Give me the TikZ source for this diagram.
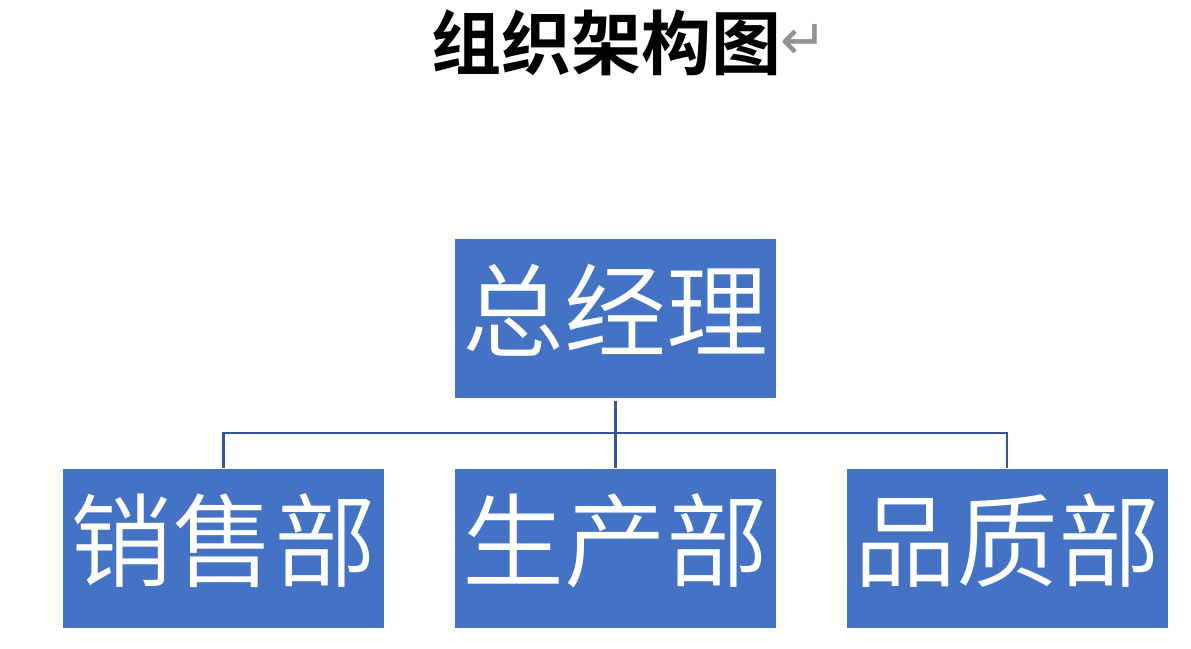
\documentclass[tikz,border=0pt]{standalone}
\usepackage{fontspec}
\newfontfamily\cjk{Noto Sans CJK SC DemiLight}
\newfontfamily\cjkbold{Noto Sans CJK SC Bold}
\newfontfamily\dejavu{DejaVu Sans}
\definecolor{boxblue}{RGB}{68,114,196}
\definecolor{lineblue}{RGB}{52,85,150}
\begin{document}
\begin{tikzpicture}[x=1pt,y=-1pt,
  orgbox/.style={fill=boxblue, draw=none, minimum width=321pt, minimum height=159pt, inner sep=0pt},
  boxtext/.style={text=white, font=\cjk\fontsize{102}{110}\selectfont, anchor=base, inner sep=0pt},
  conn/.style={draw=lineblue, line width=2.8pt}]
\useasboundingbox (0,0) rectangle (1191,648);
\node[anchor=base, inner sep=0pt, font=\cjkbold\fontsize{70}{76}\selectfont] (title) at (606,69) {组织架构图};
\node[anchor=west, inner sep=0pt, text=gray!85, font=\dejavu\fontsize{56}{60}\selectfont] (ret) at (780,42) {↵};
\node[orgbox] (gm) at (615.5,318.5) {};
\node[orgbox] (sales) at (223.5,548) {};
\node[orgbox] (prod) at (615.5,548) {};
\node[orgbox] (qa) at (1007,548) {};
\node[boxtext] (gmt) at (615.5,349) {总经理};
\node[boxtext] (salest) at (223.5,579) {销售部};
\node[boxtext] (prodt) at (615.5,579) {生产部};
\node[boxtext] (qat) at (1007,579) {品质部};
\coordinate (hl) at (sales.north |- 0,433);
\coordinate (hr) at (qa.north |- 0,433);
\draw[conn] ([yshift=-3pt]gm.south) -- (prod.north);
\draw[conn] (sales.north) -- (hl) -- (hr) -- (qa.north);
\end{tikzpicture}
\end{document}
